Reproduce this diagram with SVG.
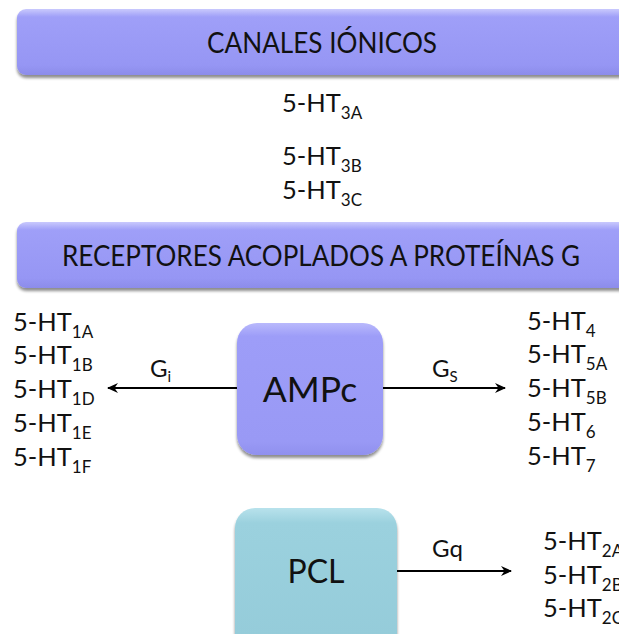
<svg xmlns="http://www.w3.org/2000/svg" width="619" height="634" viewBox="0 0 619 634">
  <defs>
    <linearGradient id="barFill" x1="0" y1="0" x2="0" y2="1">
      <stop offset="0" stop-color="#c9c9fd"/>
      <stop offset="0.12" stop-color="#9f9ff8"/>
      <stop offset="0.85" stop-color="#9696f4"/>
      <stop offset="1" stop-color="#8c8cea"/>
    </linearGradient>
    <linearGradient id="ampFill" x1="0" y1="0" x2="0" y2="1">
      <stop offset="0" stop-color="#b9b9fc"/>
      <stop offset="0.1" stop-color="#9d9df8"/>
      <stop offset="0.9" stop-color="#9999f5"/>
      <stop offset="1" stop-color="#9090ee"/>
    </linearGradient>
    <linearGradient id="pclFill" x1="0" y1="0" x2="0" y2="1">
      <stop offset="0" stop-color="#b8e2ec"/>
      <stop offset="0.1" stop-color="#9bd1de"/>
      <stop offset="1" stop-color="#94cbd9"/>
    </linearGradient>
    <filter id="shadow" x="-5%" y="-10%" width="110%" height="130%">
      <feGaussianBlur in="SourceAlpha" stdDeviation="1.5"/>
      <feOffset dx="0" dy="2.5" result="b"/>
      <feComponentTransfer><feFuncA type="linear" slope="0.45"/></feComponentTransfer>
      <feMerge><feMergeNode/><feMergeNode in="SourceGraphic"/></feMerge>
    </filter>
    <marker id="arrow" viewBox="0 0 12 12" refX="10" refY="6" markerWidth="12" markerHeight="12" markerUnits="userSpaceOnUse" orient="auto">
      <path d="M0,1 L11,6 L0,11 L3.5,6 z" fill="#000"/>
    </marker>
  </defs>
  <style>
    text { font-family: Lato, "Open Sans", "Liberation Sans", sans-serif; fill: #111; }
    .head { font-size: 28px; text-anchor: middle; }
    .item { font-size: 25.5px; }
    .sub { font-size: 17px; }
    .g { font-size: 24px; }
    .gs { font-size: 15px; }
    .conn { stroke: #000; stroke-width: 2.2; fill: none; marker-end: url(#arrow); }
  </style>

  <!-- section header: ion channels -->
  <g id="canales">
    <rect x="17" y="9" width="620" height="66" rx="9" fill="url(#barFill)" filter="url(#shadow)"/>
    <text class="head" x="322" y="53" textLength="230" lengthAdjust="spacingAndGlyphs">CANALES IÓNICOS</text>
  </g>

  <!-- 5-HT3 subunits -->
  <g id="ht3">
    <text class="item" x="282" y="112">5-HT<tspan class="sub" dy="7">3A</tspan></text>
    <text class="item" x="282" y="165">5-HT<tspan class="sub" dy="7">3B</tspan></text>
    <text class="item" x="282" y="199">5-HT<tspan class="sub" dy="7">3C</tspan></text>
  </g>

  <!-- section header: G-protein coupled receptors -->
  <g id="receptores">
    <rect x="17" y="222" width="620" height="66" rx="9" fill="url(#barFill)" filter="url(#shadow)"/>
    <text class="head" x="321" y="266" textLength="518" lengthAdjust="spacingAndGlyphs">RECEPTORES ACOPLADOS A PROTEÍNAS G</text>
  </g>

  <!-- Gi-coupled receptors -->
  <g id="ht1">
    <text class="item" x="13" y="331">5-HT<tspan class="sub" dy="7">1A</tspan></text>
    <text class="item" x="13" y="364">5-HT<tspan class="sub" dy="7">1B</tspan></text>
    <text class="item" x="13" y="398">5-HT<tspan class="sub" dy="7">1D</tspan></text>
    <text class="item" x="13" y="432">5-HT<tspan class="sub" dy="7">1E</tspan></text>
    <text class="item" x="13" y="466">5-HT<tspan class="sub" dy="7">1F</tspan></text>
  </g>

  <!-- cAMP node -->
  <g id="ampc">
    <rect x="237" y="323" width="146" height="132" rx="20" fill="url(#ampFill)" filter="url(#shadow)"/>
    <text x="310" y="402" font-size="35.5" text-anchor="middle">AMPc</text>
  </g>

  <!-- Gs-coupled receptors -->
  <g id="ht4567">
    <text class="item" x="527" y="330">5-HT<tspan class="sub" dy="7">4</tspan></text>
    <text class="item" x="527" y="363">5-HT<tspan class="sub" dy="7">5A</tspan></text>
    <text class="item" x="527" y="397">5-HT<tspan class="sub" dy="7">5B</tspan></text>
    <text class="item" x="527" y="431">5-HT<tspan class="sub" dy="7">6</tspan></text>
    <text class="item" x="527" y="465">5-HT<tspan class="sub" dy="7">7</tspan></text>
  </g>

  <!-- PLC node -->
  <g id="pcl">
    <rect x="235" y="508" width="162" height="150" rx="20" fill="url(#pclFill)" filter="url(#shadow)"/>
    <text x="316" y="583" font-size="32" text-anchor="middle">PCL</text>
  </g>

  <!-- Gq-coupled receptors (list runs past the right edge) -->
  <g id="ht2">
    <text class="item" x="543" y="550">5-HT<tspan class="sub" dy="7">2A</tspan></text>
    <text class="item" x="543" y="584">5-HT<tspan class="sub" dy="7">2B</tspan></text>
    <text class="item" x="543" y="617">5-HT<tspan class="sub" dy="7">2C</tspan></text>
  </g>

  <!-- connectors -->
  <g id="connectors">
    <line class="conn" x1="237" y1="388" x2="108" y2="388"/>
    <line class="conn" x1="383" y1="388" x2="505" y2="388"/>
    <line class="conn" x1="397" y1="571" x2="511" y2="571"/>
    <text class="g" x="150" y="377">G<tspan class="gs" dy="5">i</tspan></text>
    <text class="g" x="432" y="377">G<tspan class="gs" dy="5">S</tspan></text>
    <text class="g" x="432" y="557">Gq</text>
  </g>
</svg>
